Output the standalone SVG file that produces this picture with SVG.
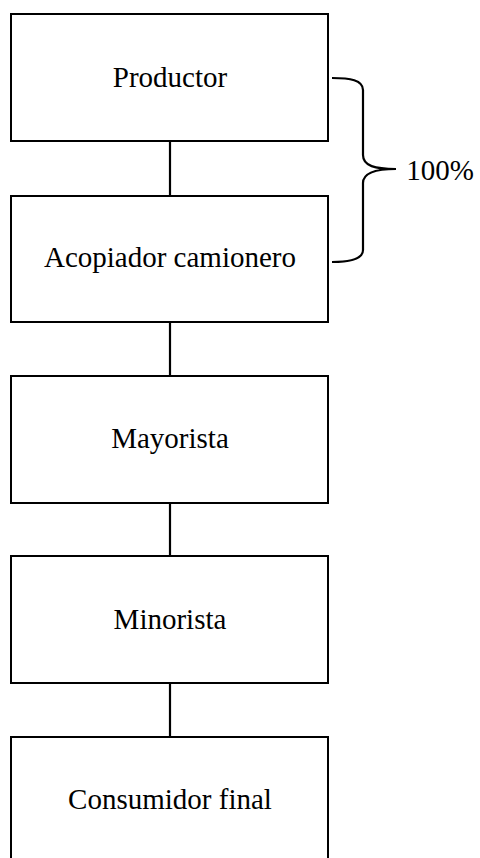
<svg xmlns="http://www.w3.org/2000/svg" width="480" height="858" viewBox="0 0 480 858">
<style>
.box{fill:#fff;stroke:#000;stroke-width:2}
.lbl{font-family:"Liberation Serif",serif;font-size:29px;fill:#000;text-anchor:middle}
.con{stroke:#000;stroke-width:2.2;fill:none}
</style>
<rect width="480" height="858" fill="#fff"/>
<g id="connectors">
<line class="con" x1="170" y1="141" x2="170" y2="196"/>
<line class="con" x1="170" y1="322" x2="170" y2="376"/>
<line class="con" x1="170" y1="503" x2="170" y2="556"/>
<line class="con" x1="170" y1="683" x2="170" y2="737"/>
</g>
<g id="productor"><rect class="box" x="11" y="14" width="317" height="127"/><text class="lbl" x="170" y="87">Productor</text></g>
<g id="acopiador"><rect class="box" x="11" y="196" width="317" height="126"/><text class="lbl" x="170" y="267">Acopiador camionero</text></g>
<g id="mayorista"><rect class="box" x="11" y="376" width="317" height="127"/><text class="lbl" x="170" y="448">Mayorista</text></g>
<g id="minorista"><rect class="box" x="11" y="556" width="317" height="127"/><text class="lbl" x="170" y="629">Minorista</text></g>
<g id="consumidor"><rect class="box" x="11" y="737" width="317" height="130"/><text class="lbl" x="170" y="809">Consumidor final</text></g>
<g id="brace">
<path class="con" d="M332,78 C350,78 363,80 363,90 L363,155 C363,166 375,169 396,169 C375,169 363,173 363,183 L363,250 C363,259 350,262 332,262"/>
<text class="lbl" x="440" y="180">100%</text>
</g>
</svg>
